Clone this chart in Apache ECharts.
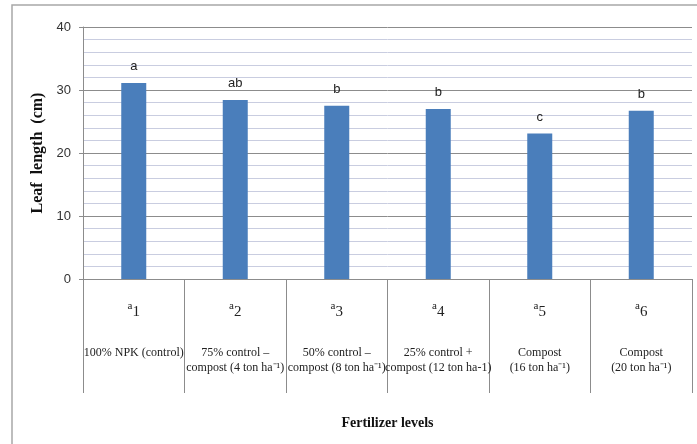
<!DOCTYPE html>
<html>
<head>
<meta charset="utf-8">
<script src="https://cdn.jsdelivr.net/npm/echarts@6/dist/echarts.min.js"></script>
<style>
  html, body { margin: 0; padding: 0; background: #fff; }
  #chart { width: 697px; height: 444px; }
</style>
</head>
<body>
<div id="chart"></div>
<script>
// treatment codes + descriptions (x axis)
const codes = ['1', '2', '3', '4', '5', '6'];
const descriptions = [
  ['100% NPK (control)'],
  ['75% control –', 'compost (4 ton ha⁻¹)'],
  ['50% control –', 'compost (8 ton ha⁻¹)'],
  ['25% control +', 'compost (12 ton ha-1)'],
  ['Compost', '(16 ton ha⁻¹)'],
  ['Compost', '(20 ton ha⁻¹)']
];
const leafLength = [31.1, 28.4, 27.5, 27.0, 23.1, 26.7];
const letters = ['a', 'ab', 'b', 'b', 'c', 'b'];

let myChart = echarts.init(document.getElementById('chart'));

myChart.setOption({
  animation: false,
  graphic: [
    {
      type: 'rect',
      shape: { x: 12, y: 5, width: 700, height: 460 },
      style: { fill: 'none', stroke: '#a8a8a8', lineWidth: 1.5 }
    }
  ],
  grid: {
    left: 83,
    right: 5,
    top: 27,
    bottom: 165
  },
  xAxis: {
    type: 'category',
    data: codes,
    boundaryGap: true,
    name: 'Fertilizer levels',
    nameLocation: 'middle',
    nameGap: 137,
    nameTextStyle: {
      fontFamily: 'Liberation Serif',
      fontWeight: 'bold',
      fontSize: 14,
      color: '#111'
    },
    axisLine: { show: true, lineStyle: { color: '#8c8c8c', width: 1 } },
    axisTick: {
      show: true,
      interval: 0,
      alignWithLabel: false,
      length: 114,
      lineStyle: { color: '#8c8c8c', width: 1 }
    },
    axisLabel: {
      interval: 0,
      margin: 22,
      formatter: function (val, idx) {
        let lines = descriptions[idx].map(t => '{t|' + t + '}').join('\n');
        return '{s|a}{n|' + val + '}\n{gap| }\n' + lines;
      },
      rich: {
        s: { fontFamily: 'Liberation Serif', fontSize: 11, color: '#222', lineHeight: 22, verticalAlign: 'top', padding: [0, 0, 6, 0] },
        n: { fontFamily: 'Liberation Serif', fontSize: 15, color: '#222', lineHeight: 22 },
        gap: { fontSize: 10, lineHeight: 22 },
        t: { fontFamily: 'Liberation Serif', fontSize: 12, color: '#222', lineHeight: 15 }
      }
    }
  },
  yAxis: {
    type: 'value',
    min: 0,
    max: 40,
    interval: 10,
    name: 'Leaf  length  (cm)',
    nameLocation: 'middle',
    nameRotate: 90,
    nameGap: 37,
    nameTextStyle: {
      fontFamily: 'Liberation Serif',
      fontWeight: 'bold',
      fontSize: 16,
      color: '#111'
    },
    axisLine: { show: true, lineStyle: { color: '#8c8c8c' } },
    axisTick: { show: true, length: 4, lineStyle: { color: '#8c8c8c' } },
    axisLabel: {
      margin: 12,
      fontFamily: 'Liberation Sans Narrow, Liberation Sans',
      fontSize: 13,
      color: '#333'
    },
    splitLine: { lineStyle: { color: '#8c8c8c', width: 1 } },
    minorTick: { show: false, splitNumber: 5 },
    minorSplitLine: { show: true, lineStyle: { color: '#c9cde0', width: 1 } }
  },
  series: [
    {
      name: 'Leaf length',
      type: 'bar',
      data: leafLength,
      barWidth: 25,
      itemStyle: { color: '#4a7ebb' },
      label: {
        show: true,
        position: 'top',
        distance: 10,
        fontFamily: 'Liberation Sans Narrow, Liberation Sans',
        fontSize: 13,
        color: '#222',
        formatter: function (p) { return letters[p.dataIndex]; }
      }
    }
  ]
});
</script>
</body>
</html>
